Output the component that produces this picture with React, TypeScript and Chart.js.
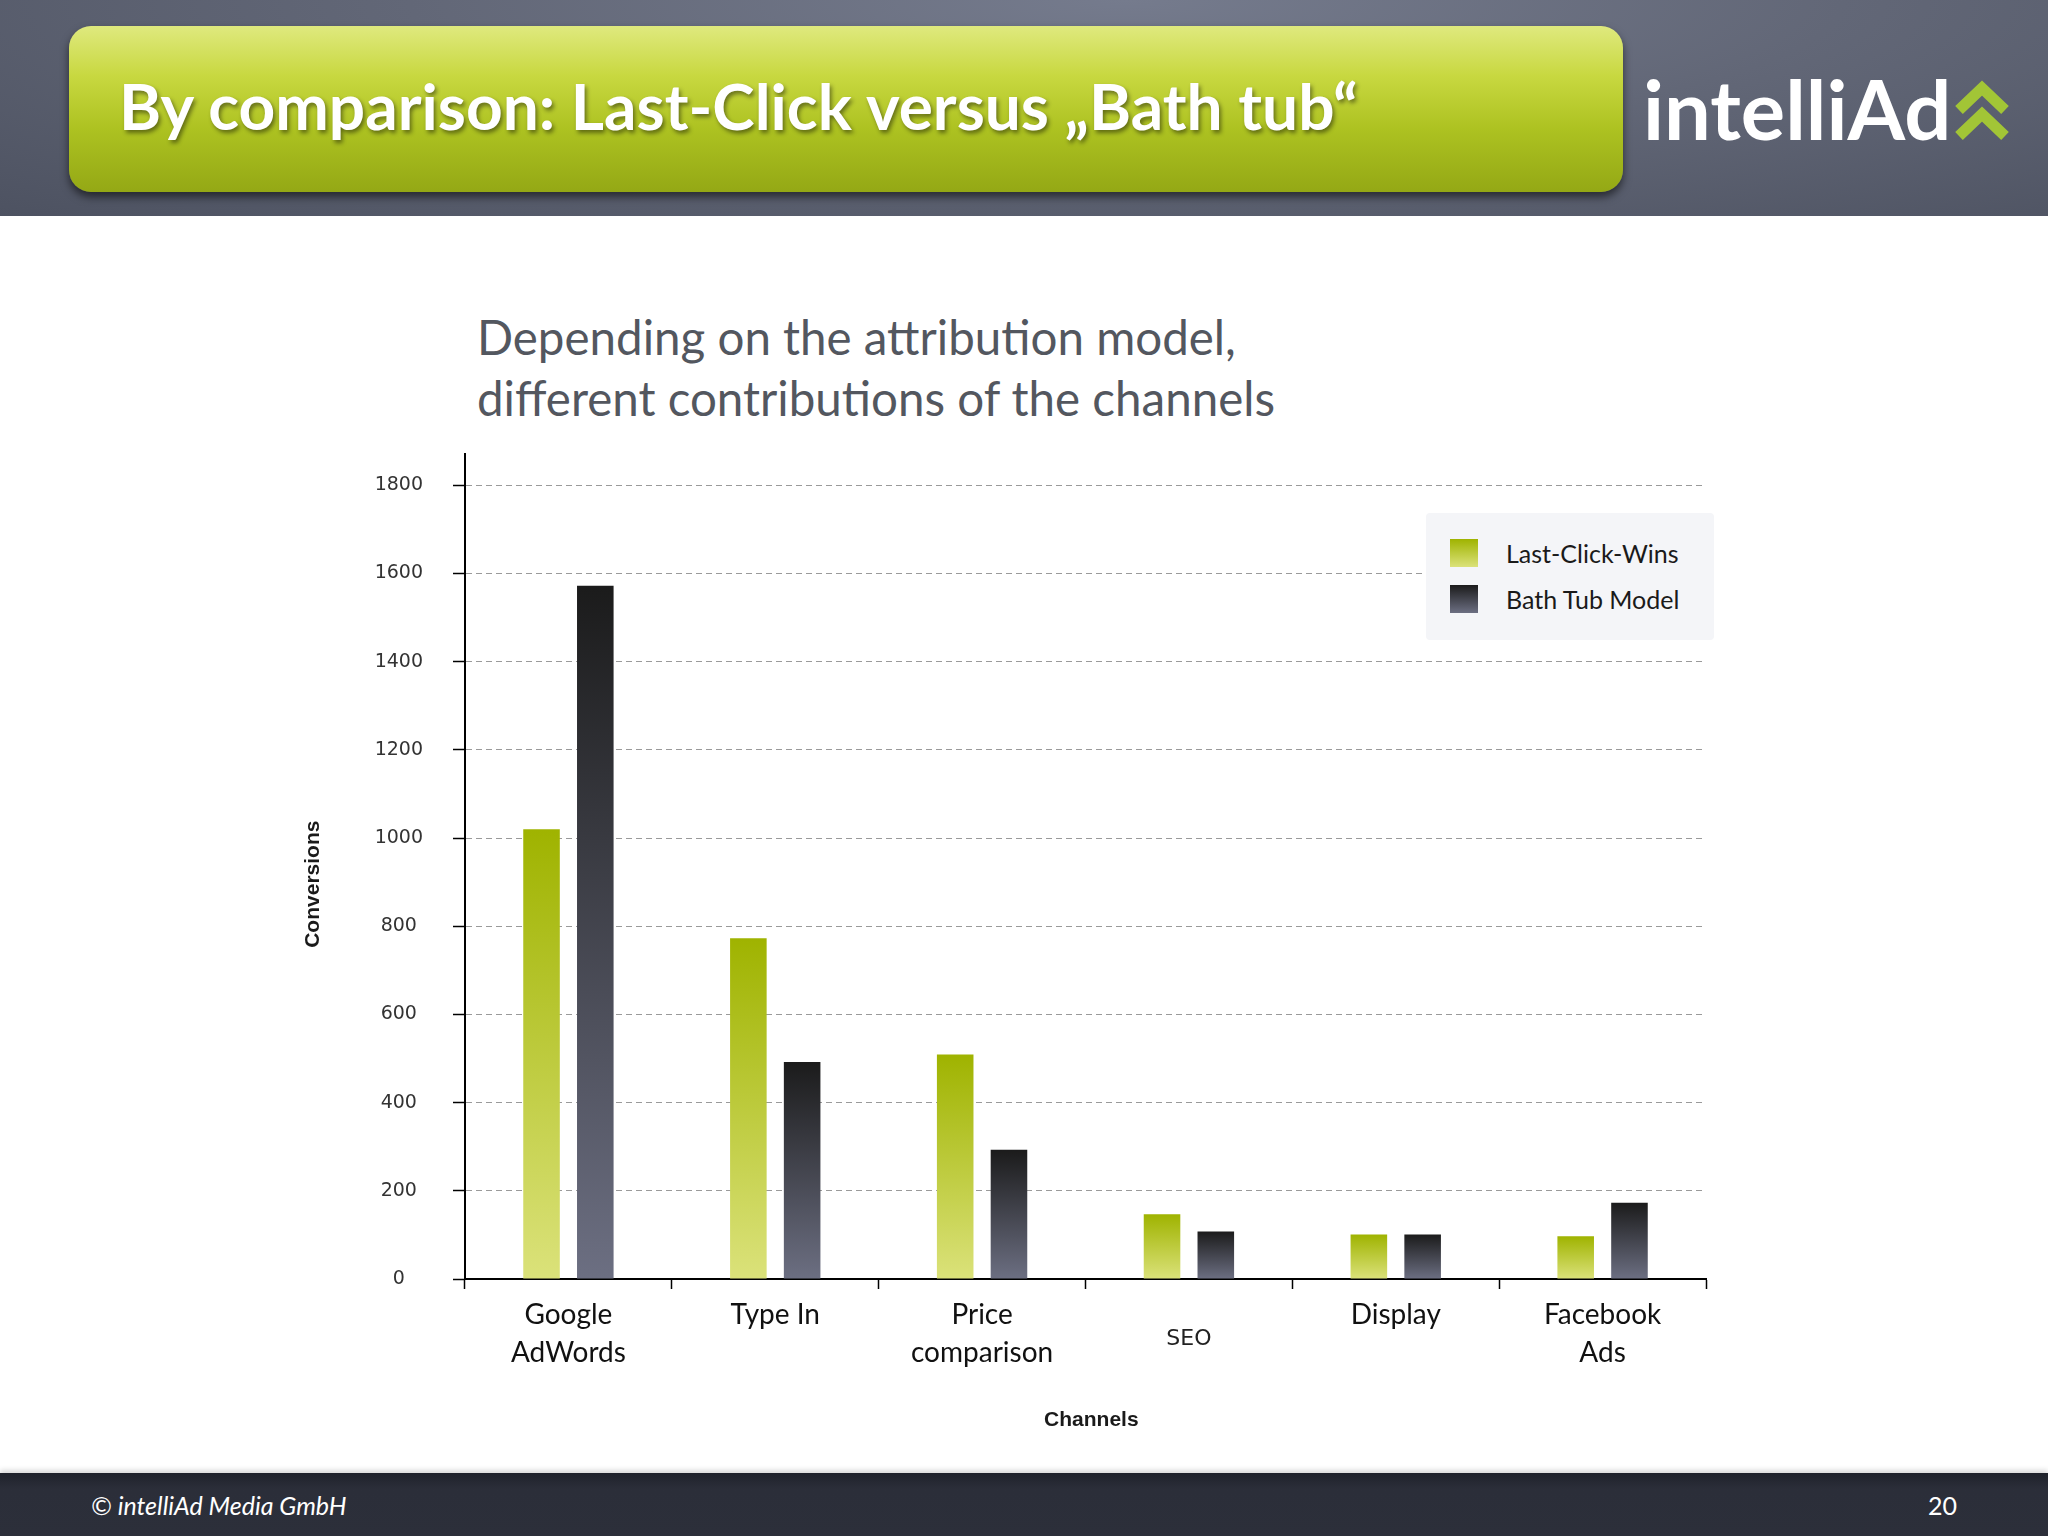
import React, { useEffect, useRef } from "react";
import { Chart, registerables } from "chart.js";

Chart.register(...registerables);

// ---- data ----
const categories: (string | string[])[] = [
  ["Google", "AdWords"],
  ["Type In", ""],
  ["Price", "comparison"],
  "SEO",
  ["Display", ""],
  ["Facebook", "Ads"],
];
const lastClickWins = [1020, 773, 509, 147, 101, 97];
const bathTubModel = [1572, 492, 293, 108, 101, 173];
const seriesNames = ["Last-Click-Wins", "Bath Tub Model"];
const yTickStep = 200;
const yAxisMin = 0;
const yAxisMax = 1870;
const yAxisTitle = "Conversions";
const xAxisTitle = "Channels";
const slideTitle = "By comparison: Last-Click versus \u201EBath tub\u201C";
const subtitleLines = ["Depending on the attribution model,", "different contributions of the channels"];
const footerText = "\u00A9 intelliAd Media GmbH";
const pageNumber = "20";

const GREEN_TOP = "#9fb300";
const GREEN_BOTTOM = "#dbe27a";
const DARK_TOP = "#1b1b1b";
const DARK_BOTTOM = "#6c6f82";
const NARROW = "'Liberation Sans', Arial, sans-serif";

const barGradient = (top: string, bottom: string) => (ctx: any) => {
  const chart = ctx.chart;
  const scales = chart.scales;
  if (ctx.type !== "data" || !scales || !scales.y) return top;
  const v = ctx.parsed ? ctx.parsed.y : ctx.raw;
  const y0 = scales.y.getPixelForValue(0);
  const y1 = scales.y.getPixelForValue(v);
  if (!isFinite(y0) || !isFinite(y1) || Math.abs(y0 - y1) < 1) return top;
  const g = chart.ctx.createLinearGradient(0, y1, 0, y0);
  g.addColorStop(0, top);
  g.addColorStop(1, bottom);
  return g;
};

const BarChart: React.FC = () => {
  const ref = useRef<HTMLCanvasElement | null>(null);
  useEffect(() => {
    if (!ref.current) return;
    const chart = new Chart(ref.current, {
      type: "bar",
      data: {
        labels: categories as any,
        datasets: [
          {
            label: seriesNames[0],
            data: lastClickWins,
            backgroundColor: barGradient(GREEN_TOP, GREEN_BOTTOM) as any,
            categoryPercentage: 0.52,
            barPercentage: 0.68,
          },
          {
            label: seriesNames[1],
            data: bathTubModel,
            backgroundColor: barGradient(DARK_TOP, DARK_BOTTOM) as any,
            categoryPercentage: 0.52,
            barPercentage: 0.68,
          },
        ],
      },
      options: {
        responsive: false,
        animation: false,
        devicePixelRatio: 1,
        layout: { padding: { top: 16, right: 34, left: 0, bottom: 0 } },
        plugins: {
          legend: { display: false },
          tooltip: { enabled: false },
        },
        scales: {
          x: {
            grid: {
              offset: true,
              drawOnChartArea: false,
              drawTicks: true,
              tickLength: 10,
              tickColor: "#000",
              tickWidth: 1.5,
              tickBorderDash: [],
            } as any,
            border: { display: true, color: "#000", width: 2 },
            ticks: {
              autoSkip: false,
              maxRotation: 0,
              minRotation: 0,
              padding: 26,
              crossAlign: "center",
              color: (c: any) => (c.index === 3 ? "#222" : "#111"),
              font: ((c: any) =>
                c.index === 3
                  ? { family: "'DejaVu Sans', sans-serif", size: 22, lineHeight: 1.2 }
                  : { family: "Lato, sans-serif", size: 28, lineHeight: 1.35 }) as any,
            },
            title: {
              display: true,
              text: "  " + xAxisTitle,
              color: "#1a1a1a",
              font: { family: NARROW, size: 21, weight: "bold" },
              padding: { top: 0, bottom: 7 },
            },
            afterFit: (scale: any) => {
              scale.height = 161;
            },
          },
          y: {
            min: yAxisMin,
            max: yAxisMax,
            grid: {
              color: (c: any) => (c.tick && c.tick.value === 0 ? "rgba(0,0,0,0)" : "#9a9a9a"),
              lineWidth: 1,
              drawTicks: true,
              tickLength: 12,
              tickColor: "#000",
              tickWidth: 1.5,
              tickBorderDash: [],
            } as any,
            border: { display: true, color: "#000", width: 2, dash: [6, 4] },
            ticks: {
              stepSize: yTickStep,
              includeBounds: false,
              padding: 30,
              crossAlign: "center",
              color: "#333",
              font: { family: "'DejaVu Sans', sans-serif", size: 19 },
              callback: (v: any) => String(v),
            },
            title: {
              display: true,
              text: yAxisTitle + "      ",
              color: "#1a1a1a",
              font: { family: NARROW, size: 21, weight: "bold" },
              padding: { top: 21, bottom: 0 },
            },
            afterFit: (scale: any) => {
              scale.width = 185;
            },
          },
        },
      },
    });
    return () => chart.destroy();
  }, []);
  return (
    <canvas
      ref={ref}
      width={1460}
      height={1027}
      style={{ position: "absolute", left: 280, top: 413, width: 1460, height: 1027 }}
    />
  );
};

const Legend: React.FC = () => {
  const swatches = [
    `linear-gradient(180deg, ${GREEN_TOP}, ${GREEN_BOTTOM})`,
    `linear-gradient(180deg, ${DARK_TOP}, ${DARK_BOTTOM})`,
  ];
  return (
    <div
      style={{
        position: "absolute",
        left: 1426,
        top: 513,
        width: 288,
        height: 127,
        background: "#f4f5f8",
        borderRadius: 4,
      }}
    >
      {seriesNames.map((n, i) => (
        <div key={n} style={{ position: "absolute", left: 24, top: 26 + i * 46, height: 28, display: "flex", alignItems: "center" }}>
          <div style={{ width: 28, height: 28, background: swatches[i] }} />
          <div
            style={{
              marginLeft: 28,
              fontFamily: "Lato, sans-serif",
              fontSize: 25,
              color: "#1a1a1a",
              whiteSpace: "nowrap",
              lineHeight: "28px",
            }}
          >
            {n}
          </div>
        </div>
      ))}
    </div>
  );
};

const App: React.FC = () => {
  useEffect(() => {
    document.body.style.margin = "0";
  }, []);
  return (
    <div style={{ position: "absolute", left: 0, top: 0, width: 2048, height: 1536, overflow: "hidden", background: "#fff" }}>
      {/* header */}
      <div
        style={{
          position: "absolute",
          left: 0,
          top: 0,
          width: 2048,
          height: 216,
          background: "radial-gradient(ellipse at 55% 0%, #757b8d 0%, #626777 45%, #4d5261 100%)",
        }}
      />
      <div
        style={{
          position: "absolute",
          left: 69,
          top: 26,
          width: 1554,
          height: 166,
          borderRadius: 22,
          background: "linear-gradient(180deg, #dfe97e 0%, #c8d840 30%, #adc221 62%, #94a815 100%)",
          boxShadow: "0 5px 9px rgba(0,0,0,0.55)",
        }}
      />
      <div
        style={{
          position: "absolute",
          left: 119,
          top: 74,
          fontFamily: "Lato, sans-serif",
          fontWeight: 700,
          fontSize: 64,
          lineHeight: "64px",
          color: "#fff",
          whiteSpace: "nowrap",
          textShadow: "2px 3px 4px rgba(0,0,0,0.45)",
        }}
      >
        {slideTitle}
      </div>
      <div
        style={{
          position: "absolute",
          left: 1643,
          top: 67,
          fontFamily: "Lato, sans-serif",
          fontWeight: 700,
          fontSize: 83,
          lineHeight: "83px",
          color: "#fff",
          whiteSpace: "nowrap",
        }}
      >
        intelliAd
      </div>
      <svg style={{ position: "absolute", left: 1953, top: 80 }} width={58} height={62}>
        <polyline points="6,30 29,8 52,30" fill="none" stroke="#a2c536" strokeWidth={11} strokeLinejoin="miter" />
        <polyline points="6,56 29,34 52,56" fill="none" stroke="#a2c536" strokeWidth={11} strokeLinejoin="miter" />
      </svg>

      {/* subtitle */}
      <div
        style={{
          position: "absolute",
          left: 477,
          top: 306,
          fontFamily: "Lato, sans-serif",
          fontSize: 47.5,
          lineHeight: "61px",
          color: "#53575f",
          whiteSpace: "nowrap",
        }}
      >
        {subtitleLines.map((l) => (
          <div key={l}>{l}</div>
        ))}
      </div>

      <BarChart />
      <Legend />

      {/* footer */}
      <div
        style={{
          position: "absolute",
          left: 0,
          top: 1473,
          width: 2048,
          height: 63,
          background: "linear-gradient(180deg, #1f222b 0%, #2b2e39 25%, #2c2f3a 100%)",
          boxShadow: "0 -3px 5px rgba(0,0,0,0.15)",
        }}
      />
      <div
        style={{
          position: "absolute",
          left: 91,
          top: 1490,
          fontFamily: "Lato, sans-serif",
          fontStyle: "italic",
          fontSize: 25,
          lineHeight: "30px",
          color: "#fff",
          whiteSpace: "nowrap",
        }}
      >
        {footerText}
      </div>
      <div
        style={{
          position: "absolute",
          left: 1917,
          width: 40,
          textAlign: "right",
          top: 1490,
          fontFamily: "Lato, sans-serif",
          fontSize: 25,
          lineHeight: "30px",
          color: "#fff",
        }}
      >
        {pageNumber}
      </div>
    </div>
  );
};

export default App;
